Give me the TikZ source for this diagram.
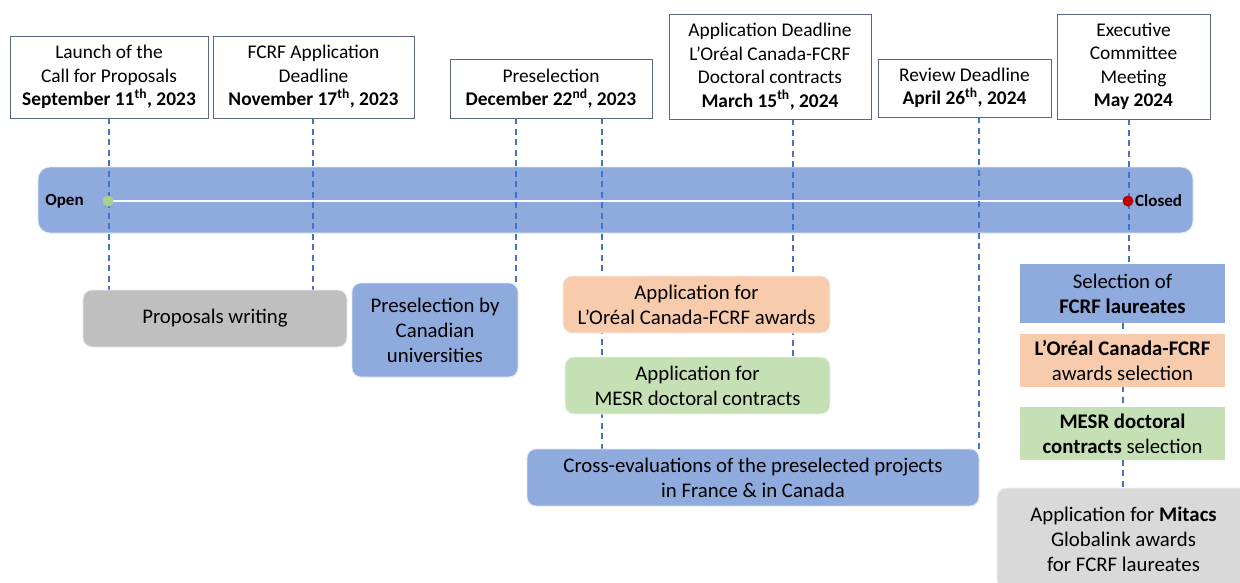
\documentclass[tikz,border=0pt]{standalone}
\usepackage{fontspec}
\setmainfont{Carlito}
\usetikzlibrary{backgrounds}
\definecolor{barblue}{HTML}{8FAADC}
\definecolor{orangefill}{HTML}{F8CBAD}
\definecolor{greenfill}{HTML}{C5E0B4}
\definecolor{grayfill}{HTML}{BFBFBF}
\definecolor{lgrayfill}{HTML}{D9D9D9}
\definecolor{dashblue}{HTML}{4472C4}
\definecolor{boxborder}{HTML}{5A6882}
\definecolor{reddot}{HTML}{C00000}
\definecolor{greendot}{HTML}{A9D18E}
\begin{document}
\begin{tikzpicture}[x=1pt,y=-1pt,
  txt/.style={font=\fontsize{19.4}{23.5}\selectfont, align=center, inner sep=0pt, text=black},
  lowtxt/.style={font=\fontsize{20.8}{25}\selectfont},
  topbox/.style={txt, draw=boxborder, line width=0.9pt, fill=white},
  lowbox/.style={txt, lowtxt, rounded corners=9pt, draw=white!70!#1, line width=0.8pt, fill=#1},
  sqbox/.style={txt, lowtxt, fill=#1},
  dline/.style={draw=dashblue, line width=1.5pt, dash pattern=on 6pt off 4.5pt},
  dotmark/.style={circle, inner sep=0pt, minimum size=11pt, fill=#1},
]
\useasboundingbox (0,0) rectangle (1240,582);
\clip (0,0) rectangle (1240,582);

% top boxes
\node[topbox, minimum width=198pt, minimum height=82pt] (launch) at (109,77)
  {Launch of the\\Call for Proposals\\\textbf{September 11\textsuperscript{th}, 2023}};
\node[topbox, minimum width=201pt, minimum height=82pt] (fcrf) at (313.5,77)
  {FCRF Application\\Deadline\\\textbf{November 17\textsuperscript{th}, 2023}};
\node[topbox, minimum width=202pt, minimum height=59pt] (presel) at (551,88.5)
  {Preselection\\\textbf{December 22\textsuperscript{nd}, 2023}};
\node[topbox, minimum width=202pt, minimum height=105pt] (appdl) at (770,66.5)
  {Application Deadline\\L’Oréal Canada-FCRF\\Doctoral contracts\\\textbf{March 15\textsuperscript{th}, 2024}};
\node[topbox, minimum width=173pt, minimum height=58pt] (review) at (964.5,88)
  {Review Deadline\\\textbf{April 26\textsuperscript{th}, 2024}};
\node[topbox, minimum width=153pt, minimum height=105pt] (exec) at (1133.5,66.5)
  {Executive\\Committee\\Meeting\\\textbf{May 2024}};

% bar
\begin{scope}[on background layer]
\node[fill=barblue, draw=white!70!barblue, line width=0.8pt, rounded corners=12pt,
  minimum width=1155pt, minimum height=66pt, inner sep=0pt] (bar) at (615.5,200) {};
\end{scope}
\node[dotmark=greendot] (open) at (108,201) {};
\node[dotmark=reddot] (closed) at (1128,201) {};
\begin{scope}[on background layer]
\draw[white, line width=2.5pt] (open.center) -- (closed.center);
\end{scope}
\node[txt, font=\fontsize{17}{20}\selectfont\bfseries] (opentxt) at (64.5,201) {Open};
\node[txt, font=\fontsize{17}{20}\selectfont\bfseries, anchor=west] (closedtxt) at (1135,201) {Closed};

% lower boxes
\node[lowbox=grayfill, minimum width=264pt, minimum height=57pt] (writing) at (215,318.5)
  {Proposals writing};
\node[lowbox=barblue, minimum width=166pt, minimum height=94pt] (canada) at (435,330)
  {Preselection by\\Canadian\\universities};
\node[lowbox=orangefill, minimum width=267pt, minimum height=57pt] (loreal) at (696.5,304.5)
  {Application for\\L’Oréal Canada-FCRF awards};
\node[lowbox=greenfill, minimum width=265pt, minimum height=57pt] (mesr) at (697.5,385.5)
  {Application for\\MESR doctoral contracts};
\node[lowbox=barblue, minimum width=452pt, minimum height=57pt] (cross) at (753,477.5)
  {Cross-evaluations of the preselected projects\\in France \& in Canada};
\node[sqbox=barblue, minimum width=205pt, minimum height=59pt] (sel) at (1122.5,293.5)
  {Selection of\\\textbf{FCRF laureates}};
\node[sqbox=orangefill, minimum width=205pt, minimum height=53pt] (lsel) at (1122.5,360.5)
  {\textbf{L’Oréal Canada-FCRF}\\awards selection};
\node[sqbox=greenfill, minimum width=205pt, minimum height=53pt] (msel) at (1122.5,433.5)
  {\textbf{MESR doctoral}\\\textbf{contracts} selection};
\node[lowbox=lgrayfill, minimum width=253pt, minimum height=102pt] (mitacs) at (1123.5,539)
  {Application for \textbf{Mitacs}\\Globalink awards\\for FCRF laureates};

% dashed connectors
\begin{scope}[on background layer]
\draw[dline] (launch.south) -- (launch.south |- writing.north);
\draw[dline] ([xshift=-0.5pt]fcrf.south) -- ([xshift=-0.5pt]fcrf.south |- writing.north);
\draw[dline] ([xshift=-35pt]presel.south) -- ([xshift=-35pt]presel.south |- canada.north);
\draw[dline] ([xshift=51pt]presel.south) -- ([xshift=51pt]presel.south |- cross.north);
\draw[dline] ([xshift=23pt]appdl.south) -- ([xshift=23pt]appdl.south |- mesr.north);
\draw[dline] ([xshift=14.5pt]review.south) -- ([xshift=14.5pt]review.south |- cross.north);
\draw[dline] ([xshift=-4.5pt]exec.south) -- ([xshift=-4.5pt]exec.south |- sel.north);
\draw[dline] ([xshift=0.5pt]sel.south) -- ([xshift=0.5pt]sel.south |- mitacs.north);
\end{scope}
\end{tikzpicture}
\end{document}
